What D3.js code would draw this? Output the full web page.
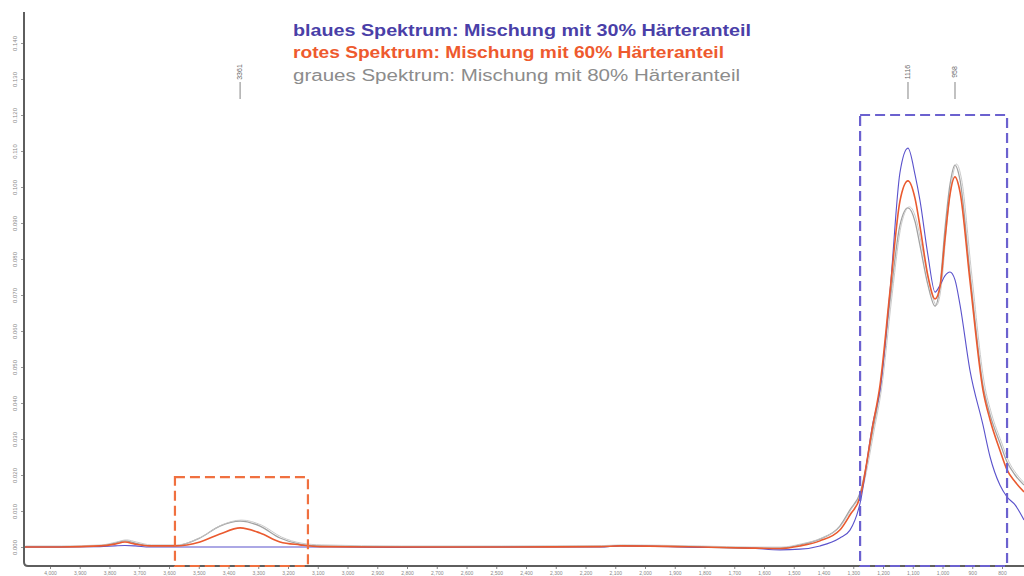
<!DOCTYPE html>
<html>
<head>
<meta charset="utf-8">
<script src="https://cdn.jsdelivr.net/npm/d3@7"></script>
<style>
  html, body { margin: 0; padding: 0; background: #fff; }
  svg { display: block; }
</style>
</head>
<body>
<svg id="chart" width="1024" height="576"></svg>
<script>
// Wavenumber grid (cm^-1) shared by all three spectra
const wavenumbers = [4087, 3966, 3832, 3782, 3748, 3714, 3664, 3580, 3496, 3429,
  3361, 3294, 3227, 3160, 3092, 2824, 2487, 2151, 2084, 1815,
  1647, 1546, 1479, 1412, 1345, 1311, 1277, 1234, 1210, 1176,
  1143, 1116, 1092, 1076, 1049, 1025, 1008, 992, 975, 958,
  941, 908, 864, 840, 807, 783, 756, 726];

// Absorbance, 30 % hardener (blue)
const blueSpectrum = [0, 0, 0.0001, 0.0003, 0.0004, 0.0003, 0, 0, 0, 0,
  0, 0, 0, 0, 0, -0.0001, 0, 0, 0.0003, -0.0001,
  -0.0003, -0.0008, -0.0006, 0.0003, 0.0025, 0.0047, 0.0122, 0.0344, 0.0436, 0.0714,
  0.1040, 0.1108, 0.1033, 0.0964, 0.0811, 0.0708, 0.0728, 0.0753, 0.0764, 0.0742,
  0.0672, 0.0492, 0.0339, 0.0250, 0.0172, 0.0139, 0.0117, 0.0075];

// Absorbance, 60 % hardener (red)
const redSpectrum = [0, 0, 0.0003, 0.0008, 0.0014, 0.0008, 0.0003, 0.0003, 0.0014, 0.0036,
  0.0053, 0.0039, 0.0014, 0.0006, 0.0001, 0, 0, 0.0001, 0.0003, 0,
  -0.0003, -0.0004, 0.0003, 0.0017, 0.0047, 0.0089, 0.0139, 0.0339, 0.0450, 0.0714,
  0.0961, 0.1017, 0.0967, 0.0892, 0.0753, 0.0689, 0.0725, 0.0853, 0.0978, 0.1028,
  0.0986, 0.0742, 0.0436, 0.0353, 0.0269, 0.0214, 0.0181, 0.0153];

// Absorbance, 80 % hardener (grey)
const graySpectrum = [0, 0, 0.0003, 0.0011, 0.0017, 0.0011, 0.0003, 0.0003, 0.0025, 0.0058,
  0.0072, 0.0058, 0.0025, 0.0008, 0.0003, 0, 0, 0.0001, 0.0003, 0,
  -0.0003, -0.0003, 0.0006, 0.0022, 0.0058, 0.0103, 0.0150, 0.0325, 0.0436, 0.0686,
  0.0894, 0.0942, 0.0903, 0.0839, 0.0728, 0.0669, 0.0728, 0.0881, 0.1006, 0.1061,
  0.1019, 0.0764, 0.0450, 0.0367, 0.0289, 0.0236, 0.0200, 0.0172];

const xTickValues = [4000, 3900, 3800, 3700, 3600, 3500, 3400, 3300, 3200, 3100,
  3000, 2900, 2800, 2700, 2600, 2500, 2400, 2300, 2200, 2100,
  2000, 1900, 1800, 1700, 1600, 1500, 1400, 1300, 1200, 1100,
  1000, 900, 800];
const yTickValues = [0, 0.01, 0.02, 0.03, 0.04, 0.05, 0.06, 0.07, 0.08, 0.09,
  0.10, 0.11, 0.12, 0.13, 0.14];

const peakMarks = [3361, 1116, 958];

const legendTexts = [
  "blaues Spektrum: Mischung mit 30% Härteranteil",
  "rotes Spektrum: Mischung mit 60% Härteranteil",
  "graues Spektrum: Mischung mit 80% Härteranteil"
];

// Highlight boxes: [wavenumber from, wavenumber to, absorbance top]
const redBox = [3580, 3133, 0.0194];
const blueBox = [1277, 783, 0.1200];

const svg = d3.select("#chart");
const W = 1024, H = 576;
const plotLeft = 24, plotBottom = 566, plotTop = 12;

const x = d3.scaleLinear().domain([4000, 800]).range([50, 1002]);
const y = d3.scaleLinear().domain([0, 0.14]).range([547, 43]);

const colors = { blue: "#5a52cc", red: "#ea5a2f", gray: "#a2a2a2" };

// Clip for the plotting area
svg.append("defs").append("clipPath").attr("id", "plotClip")
  .append("rect").attr("x", plotLeft + 1).attr("y", plotTop)
  .attr("width", W - plotLeft).attr("height", plotBottom - plotTop);

// Y axis tick labels (rotated)
const yAxis = d3.axisLeft(y).tickValues(yTickValues).tickSize(3).tickFormat(d3.format(".3f"));
const yg = svg.append("g").attr("transform", `translate(${plotLeft},0)`).call(yAxis);
yg.select(".domain").remove();
yg.selectAll(".tick line").attr("stroke", "#999");
yg.selectAll(".tick text")
  .attr("x", 0).attr("dy", 0)
  .attr("transform", "translate(-7,0) rotate(-90)")
  .attr("text-anchor", "middle")
  .attr("fill", "#888")
  .style("font", "6px 'Liberation Sans', Arial, sans-serif");

// X axis tick labels
const xAxis = d3.axisBottom(x).tickValues(xTickValues).tickSize(3).tickFormat(d3.format(",.0f"));
const xg = svg.append("g").attr("transform", `translate(0,${plotBottom})`).call(xAxis);
xg.select(".domain").remove();
xg.selectAll(".tick line").attr("stroke", "#888");
xg.selectAll(".tick text").attr("y", 5).attr("dy", "0.71em")
  .attr("fill", "#888")
  .style("font", "5px 'Liberation Sans', Arial, sans-serif");

// Axis frame with rounded corner
svg.append("path")
  .attr("d", `M${plotLeft},${plotTop} L${plotLeft},${plotBottom - 4} Q${plotLeft},${plotBottom} ${plotLeft + 4},${plotBottom} L${W},${plotBottom}`)
  .attr("fill", "none").attr("stroke", "#5e5e5e").attr("stroke-width", 2);

// Spectra
const plot = svg.append("g").attr("clip-path", "url(#plotClip)");
const line = d3.line()
  .x((d, i) => x(wavenumbers[i]))
  .y(d => y(d))
  .curve(d3.curveMonotoneX);

plot.append("path").datum(graySpectrum).attr("d", line)
  .attr("fill", "none").attr("stroke", colors.gray).attr("stroke-width", 1.3);
plot.append("path").datum(graySpectrum).attr("d", line)
  .attr("transform", "translate(1.5,-1)")
  .attr("fill", "none").attr("stroke", "#c4c4c4").attr("stroke-width", 0.9);
plot.append("path").datum(blueSpectrum).attr("d", line)
  .attr("fill", "none").attr("stroke", colors.blue).attr("stroke-width", 1.1);
plot.append("path").datum(redSpectrum).attr("d", line)
  .attr("fill", "none").attr("stroke", colors.red).attr("stroke-width", 1.6);

// Dashed highlight boxes
function box(b, color) {
  const x0 = x(b[0]), x1 = x(b[1]), y0 = y(b[2]);
  svg.append("rect")
    .attr("x", x0).attr("y", y0)
    .attr("width", x1 - x0).attr("height", plotBottom - y0)
    .attr("fill", "none").attr("stroke", color)
    .attr("stroke-width", 2.2).attr("stroke-dasharray", "10,5");
}
box(redBox, "#f0703f");
box(blueBox, "#6b61cf");

// Peak markers
const pm = svg.append("g");
peakMarks.forEach(w => {
  const px = x(w);
  pm.append("text")
    .attr("transform", `translate(${px + 2},72) rotate(-90)`)
    .attr("text-anchor", "middle")
    .attr("fill", "#666")
    .style("font", "7px 'Liberation Sans', Arial, sans-serif")
    .text(d3.format(".0f")(w));
  pm.append("line")
    .attr("x1", px).attr("x2", px).attr("y1", 82).attr("y2", 99)
    .attr("stroke", "#999").attr("stroke-width", 1.2);
});

// Legend text
const legendStyle = [
  { color: "#4a3fa8", weight: "bold", len: 458, base: 36 },
  { color: "#ee5a2e", weight: "bold", len: 431, base: 58 },
  { color: "#8c8c8c", weight: "normal", len: 447, base: 81 }
];
legendTexts.forEach((t, i) => {
  const s = legendStyle[i];
  svg.append("text")
    .attr("x", 293).attr("y", s.base)
    .attr("fill", s.color)
    .attr("textLength", s.len).attr("lengthAdjust", "spacingAndGlyphs")
    .style("font", `${s.weight} 16px 'Liberation Sans', Arial, sans-serif`)
    .text(t);
});
</script>
</body>
</html>
